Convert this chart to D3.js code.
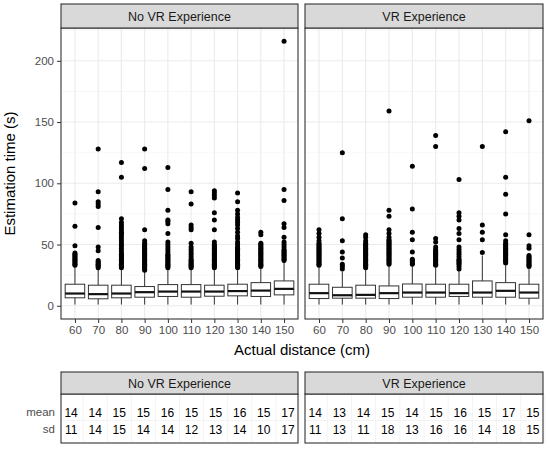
<!DOCTYPE html>
<html>
<head>
<meta charset="utf-8">
<script src="https://cdn.jsdelivr.net/npm/d3@7"></script>
<style>
  body { margin: 0; background: #fff; }
  svg { display: block; font-family: "Liberation Sans", Arial, sans-serif; }
</style>
</head>
<body>
<svg id="chart" width="550" height="451"></svg>
<script>
var distances = [60, 70, 80, 90, 100, 110, 120, 130, 140, 150]
var groups = ["No VR Experience", "VR Experience"]
var yTicks = [0, 50, 100, 150, 200]
var yMinorTicks = [25, 75, 125, 175, 225]

// No VR experience boxes
var noVrQ1 = [6.5, 5.7, 6.5, 7, 7.6, 7, 7.8, 8.1, 7.6, 8.9]
var noVrMedian = [10, 9.5, 10, 11.1, 11.6, 11.6, 11.6, 12, 12.4, 13.8]
var noVrQ3 = [17.6, 16.8, 16.8, 15.7, 17.3, 17.3, 16.8, 17.6, 18.9, 20.3]
var noVrLow = [1, 1, 1, 1, 1, 1, 1, 1, 1, 1]
var noVrHigh = [32, 30, 30.5, 28, 30, 30, 30, 29, 30.5, 36]
var noVrOutliers = [
  [33, 34, 35, 36, 37, 38, 39, 40, 41, 42, 43, 49, 65, 84],
  [31, 32, 33, 34, 35, 36, 37, 45, 48, 64, 81, 83, 85, 93, 128],
  [31, 32, 33, 34, 35, 36, 37, 38, 39, 40, 41, 42, 43, 45, 47, 49, 50, 52, 54, 56, 58, 59, 60, 62, 64, 66, 68, 71, 105, 117],
  [29, 30, 31, 32, 33, 34, 35, 36, 37, 38, 39, 40, 41, 42, 43, 44, 45, 46, 47, 48, 49, 50, 51, 53, 62, 112, 128],
  [31, 32, 33, 34, 35, 36, 37, 38, 39, 40, 41, 42, 44, 46, 48, 50, 52, 59, 67, 69, 70, 78, 95, 113],
  [31, 32, 33, 34, 35, 36, 37, 38, 40, 42, 44, 46, 48, 51, 62, 64, 66, 83, 93],
  [31, 32, 33, 34, 35, 36, 37, 38, 39, 40, 41, 42, 43, 44, 45, 46, 47, 48, 49, 50, 52, 62, 70, 76, 88, 90, 92, 94],
  [31, 32, 33, 34, 35, 36, 37, 38, 39, 40, 41, 42, 43, 44, 45, 46, 47, 48, 50, 52, 55, 57, 60, 63, 66, 68, 70, 72, 75, 78, 85, 92],
  [32, 33, 34, 35, 36, 37, 38, 39, 40, 41, 42, 43, 44, 45, 46, 47, 48, 49, 50, 51, 58, 60],
  [37, 38, 39, 40, 41, 42, 43, 44, 45, 46, 48, 50, 52, 56, 64, 67, 86, 95, 216]
]

// VR experience boxes
var vrQ1 = [5.9, 6.2, 6.2, 5.9, 7, 7, 7.6, 7, 7, 6.2]
var vrMedian = [10.3, 8.6, 8.9, 10.3, 10.8, 10.8, 10.3, 10.8, 12.2, 10.8]
var vrQ3 = [17.6, 15.1, 16.8, 16.2, 17.8, 17.6, 17.6, 20.3, 18.9, 17.6]
var vrLow = [1, 1, 1, 1, 1, 1, 1, 1, 1, 1]
var vrHigh = [32, 28, 30, 33, 33, 32, 29, 41, 33, 30]
var vrOutliers = [
  [33, 34, 35, 36, 37, 38, 39, 40, 41, 42, 43, 44, 45, 46, 47, 48, 49, 50, 51, 53, 56, 59, 62],
  [30, 32, 34, 39, 44, 53, 71, 125],
  [31, 32, 33, 34, 35, 36, 37, 38, 39, 40, 41, 42, 43, 44, 45, 46, 47, 48, 49, 50, 51, 53, 56, 58],
  [34, 35, 36, 37, 38, 39, 40, 41, 42, 43, 44, 45, 46, 47, 48, 49, 50, 51, 52, 53, 54, 56, 59, 62, 73, 78, 159],
  [34, 35, 36, 37, 38, 44, 54, 60, 79, 114],
  [33, 34, 35, 36, 37, 38, 39, 40, 41, 42, 43, 44, 45, 46, 48, 52, 55, 130, 139],
  [30, 32, 34, 35, 36, 37, 38, 40, 42, 44, 46, 48, 54, 59, 63, 70, 73, 76, 103],
  [43.5, 54, 60, 66, 130],
  [35, 36, 37, 38, 39, 40, 41, 42, 43, 44, 45, 46, 47, 48, 49, 50, 51, 53, 58, 75, 91, 105, 142],
  [32, 33, 34, 35, 36, 37, 38, 39, 40, 41, 47, 49, 58, 151]
]

// summary table
var noVrMean = [14, 14, 15, 15, 16, 15, 15, 16, 15, 17]
var noVrSd = [11, 14, 15, 14, 14, 12, 13, 14, 10, 17]
var vrMean = [14, 13, 14, 15, 14, 15, 16, 15, 17, 15]
var vrSd = [11, 13, 11, 18, 13, 16, 16, 14, 18, 15]
var statLabels = ["mean", "sd"]

function makeBoxes(q1, med, q3, lo, hi, out) {
  return distances.map(function(d, i) {
    return { dist: d, q1: q1[i], median: med[i], q3: q3[i], low: lo[i], high: hi[i], outliers: out[i] }
  })
}

var panels = [
  { name: groups[0], left: 61, right: 298, boxes: makeBoxes(noVrQ1, noVrMedian, noVrQ3, noVrLow, noVrHigh, noVrOutliers), mean: noVrMean, sd: noVrSd },
  { name: groups[1], left: 305, right: 543, boxes: makeBoxes(vrQ1, vrMedian, vrQ3, vrLow, vrHigh, vrOutliers), mean: vrMean, sd: vrSd }
]

var svg = d3.select("#chart")

var panelTop = 28, panelBottom = 319
var stripTop = 4

var yPositionScale = d3.scaleLinear()
  .domain([-10.8, 226.8])
  .range([panelBottom, panelTop])

var gridColor = "#ebebeb"
var darkLine = "#333333"

panels.forEach(function(p, pi) {
  var xPositionScale = d3.scalePoint()
    .domain(distances)
    .range([p.left, p.right])
    .padding(0.6)

  var g = svg.append("g")

  // grid
  g.selectAll(".minor")
    .data(yMinorTicks)
    .enter().append("line")
    .attr("x1", p.left).attr("x2", p.right)
    .attr("y1", function(d) { return yPositionScale(d) })
    .attr("y2", function(d) { return yPositionScale(d) })
    .attr("stroke", "#f2f2f2").attr("stroke-width", 0.6)

  g.selectAll(".major")
    .data(yTicks)
    .enter().append("line")
    .attr("x1", p.left).attr("x2", p.right)
    .attr("y1", function(d) { return yPositionScale(d) })
    .attr("y2", function(d) { return yPositionScale(d) })
    .attr("stroke", gridColor).attr("stroke-width", 1.1)

  g.selectAll(".vgrid")
    .data(distances)
    .enter().append("line")
    .attr("x1", function(d) { return xPositionScale(d) })
    .attr("x2", function(d) { return xPositionScale(d) })
    .attr("y1", panelTop).attr("y2", panelBottom)
    .attr("stroke", gridColor).attr("stroke-width", 1.1)

  // boxes
  var bw = xPositionScale.step() * 0.84
  var box = g.selectAll(".box")
    .data(p.boxes)
    .enter().append("g")

  box.append("line")
    .attr("x1", function(d) { return xPositionScale(d.dist) })
    .attr("x2", function(d) { return xPositionScale(d.dist) })
    .attr("y1", function(d) { return yPositionScale(d.high) })
    .attr("y2", function(d) { return yPositionScale(d.low) })
    .attr("stroke", darkLine).attr("stroke-width", 1)

  box.append("rect")
    .attr("x", function(d) { return xPositionScale(d.dist) - bw / 2 })
    .attr("width", bw)
    .attr("y", function(d) { return yPositionScale(d.q3) })
    .attr("height", function(d) { return yPositionScale(d.q1) - yPositionScale(d.q3) })
    .attr("fill", "#fff").attr("stroke", darkLine).attr("stroke-width", 1)

  box.append("line")
    .attr("x1", function(d) { return xPositionScale(d.dist) - bw / 2 })
    .attr("x2", function(d) { return xPositionScale(d.dist) + bw / 2 })
    .attr("y1", function(d) { return yPositionScale(d.median) })
    .attr("y2", function(d) { return yPositionScale(d.median) })
    .attr("stroke", "#111").attr("stroke-width", 2.2)

  box.selectAll("circle")
    .data(function(d) { return d.outliers.map(function(v) { return { dist: d.dist, v: v } }) })
    .enter().append("circle")
    .attr("cx", function(d) { return xPositionScale(d.dist) })
    .attr("cy", function(d) { return yPositionScale(d.v) })
    .attr("r", 2.5)
    .attr("fill", "#000")

  // panel border
  g.append("rect")
    .attr("x", p.left).attr("y", panelTop)
    .attr("width", p.right - p.left).attr("height", panelBottom - panelTop)
    .attr("fill", "none").attr("stroke", darkLine).attr("stroke-width", 1.1)

  // strip
  g.append("rect")
    .attr("x", p.left).attr("y", stripTop)
    .attr("width", p.right - p.left).attr("height", panelTop - stripTop)
    .attr("fill", "#d9d9d9").attr("stroke", darkLine).attr("stroke-width", 1.1)
  g.append("text")
    .attr("x", (p.left + p.right) / 2).attr("y", (stripTop + panelTop) / 2 + 4.5)
    .attr("text-anchor", "middle")
    .attr("font-size", 12.5).attr("fill", "#1a1a1a")
    .text(p.name)

  // x axis
  var xAxis = d3.axisBottom(xPositionScale).tickSize(4).tickPadding(3)
  var xg = g.append("g")
    .attr("transform", "translate(0," + panelBottom + ")")
    .call(xAxis)
  xg.select(".domain").remove()
  xg.selectAll("line").attr("stroke", darkLine)
  xg.selectAll("text").attr("font-size", 11.5).attr("fill", "#4d4d4d").attr("font-family", null)

  // y axis only on the first panel
  if (pi === 0) {
    var yAxis = d3.axisLeft(yPositionScale).tickValues(yTicks).tickSize(4).tickPadding(3)
    var yg = g.append("g")
      .attr("transform", "translate(" + p.left + ",0)")
      .call(yAxis)
    yg.select(".domain").remove()
    yg.selectAll("line").attr("stroke", darkLine)
    yg.selectAll("text").attr("font-size", 11.5).attr("fill", "#4d4d4d").attr("font-family", null)
  }

  // summary table below
  var tTop = 372, tStripBottom = 394, tBottom = 443
  var rowScale = d3.scalePoint()
    .domain(statLabels)
    .range([412, 429])
  var colScale = d3.scalePoint()
    .domain(distances)
    .range([p.left, p.right])
    .padding(0.42)

  var t = svg.append("g")
  t.append("rect")
    .attr("x", p.left).attr("y", tStripBottom)
    .attr("width", p.right - p.left).attr("height", tBottom - tStripBottom)
    .attr("fill", "#fff")
  t.selectAll(".tv")
    .data(distances)
    .enter().append("line")
    .attr("x1", function(d) { return colScale(d) + colScale.step() / 2 })
    .attr("x2", function(d) { return colScale(d) + colScale.step() / 2 })
    .attr("y1", tStripBottom).attr("y2", tBottom)
    .attr("stroke", "#f3f3f3").attr("stroke-width", 1)
  t.append("line")
    .attr("x1", p.left).attr("x2", p.right)
    .attr("y1", (rowScale("mean") + rowScale("sd")) / 2)
    .attr("y2", (rowScale("mean") + rowScale("sd")) / 2)
    .attr("stroke", "#f3f3f3").attr("stroke-width", 1)
  t.append("rect")
    .attr("x", p.left).attr("y", tStripBottom)
    .attr("width", p.right - p.left).attr("height", tBottom - tStripBottom)
    .attr("fill", "none").attr("stroke", darkLine).attr("stroke-width", 1.1)
  t.append("rect")
    .attr("x", p.left).attr("y", tTop)
    .attr("width", p.right - p.left).attr("height", tStripBottom - tTop)
    .attr("fill", "#d9d9d9").attr("stroke", darkLine).attr("stroke-width", 1.1)
  t.append("text")
    .attr("x", (p.left + p.right) / 2).attr("y", (tTop + tStripBottom) / 2 + 4.5)
    .attr("text-anchor", "middle")
    .attr("font-size", 12.5).attr("fill", "#1a1a1a")
    .text(p.name)

  var cells = []
  distances.forEach(function(d, i) {
    cells.push({ dist: d, stat: "mean", v: p.mean[i] })
    cells.push({ dist: d, stat: "sd", v: p.sd[i] })
  })
  t.selectAll(".cell")
    .data(cells)
    .enter().append("text")
    .attr("x", function(d) { return colScale(d.dist) })
    .attr("y", function(d) { return rowScale(d.stat) + 4.5 })
    .attr("text-anchor", "middle")
    .attr("font-size", 12).attr("fill", "#000")
    .text(function(d) { return d.v })

  if (pi === 0) {
    t.selectAll(".rowlab")
      .data(statLabels)
      .enter().append("text")
      .attr("x", p.left - 6)
      .attr("y", function(d) { return rowScale(d) + 4 })
      .attr("text-anchor", "end")
      .attr("font-size", 11.5).attr("fill", "#4d4d4d")
      .text(function(d) { return d })
  }
})

// axis titles
svg.append("text")
  .attr("x", (61 + 543) / 2).attr("y", 355)
  .attr("text-anchor", "middle")
  .attr("font-size", 15).attr("fill", "#000")
  .text("Actual distance (cm)")

svg.append("text")
  .attr("transform", "translate(15," + ((panelTop + panelBottom) / 2) + ") rotate(-90)")
  .attr("text-anchor", "middle")
  .attr("font-size", 15).attr("fill", "#000")
  .text("Estimation time (s)")
</script>
</body>
</html>
